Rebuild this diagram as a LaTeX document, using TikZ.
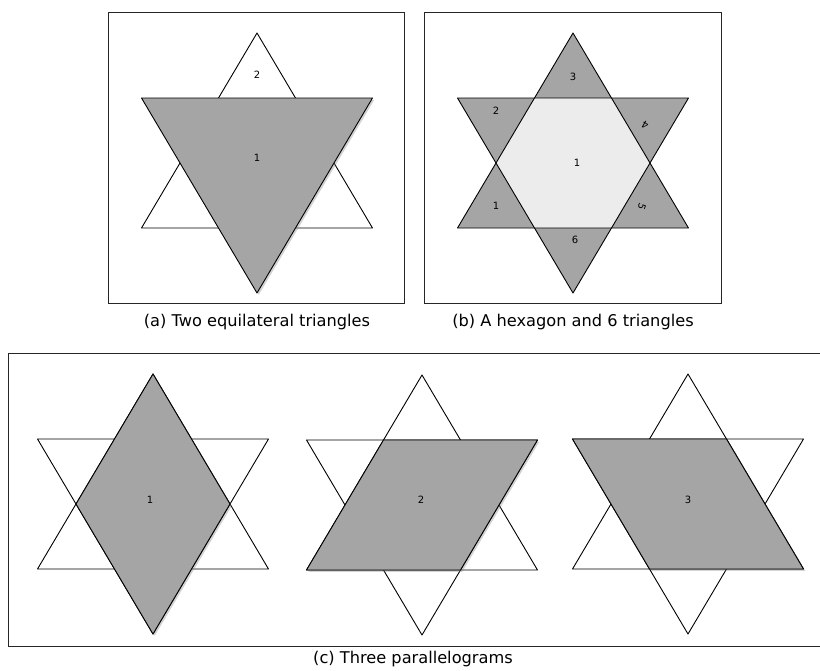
\documentclass[tikz,border=0pt]{standalone}
\usepackage{fontspec}
\setmainfont{DejaVu Sans}
\usepackage{xcolor}
\usepackage{tikz}
\usetikzlibrary{positioning,calc,shadows}

\definecolor{shapegray}{RGB}{165,165,165}
\definecolor{hexgray}{RGB}{236,236,236}

\begin{document}
\begin{tikzpicture}[
    x=1pt,y=-1pt,
    frame/.style={draw=black!85,line width=1pt},
    tri/.style={draw=black,line width=0.9pt,line join=round},
    piece/.style={tri,fill=shapegray,drop shadow={shadow xshift=1.8pt,shadow yshift=-1.8pt,opacity=0.35}},
    num/.style={font=\fontsize{10}{10}\selectfont},
    caption/.style={font=\fontsize{16.2}{16.2}\selectfont}
    ]

    \useasboundingbox (0,0) rectangle (820,670);

    % points of each star
    \foreach \n/\cx/\cy in {a/257/163,b/573/163,c1/153/504,c2/422/505,c3/688/504} {
      \coordinate (\n-ut) at (\cx,\cy-130);
      \coordinate (\n-ul) at (\cx-115.5,\cy+65);
      \coordinate (\n-ur) at (\cx+115.5,\cy+65);
      \coordinate (\n-dl) at (\cx-115.5,\cy-65);
      \coordinate (\n-dr) at (\cx+115.5,\cy-65);
      \coordinate (\n-db) at (\cx,\cy+130);
      \coordinate (\n-h1) at (\cx-38.5,\cy-65);
      \coordinate (\n-h2) at (\cx+38.5,\cy-65);
      \coordinate (\n-h3) at (\cx+77,\cy);
      \coordinate (\n-h4) at (\cx+38.5,\cy+65);
      \coordinate (\n-h5) at (\cx-38.5,\cy+65);
      \coordinate (\n-h6) at (\cx-77,\cy);
    }

    % frames
    \draw[frame] (108,12) rectangle (404,303);
    \draw[frame] (424,12) rectangle (721,303);
    \draw[frame] (830,353) -- (8,353) -- (8,646) -- (830,646);

    % (a)
    \draw[tri,fill=white] (a-ut)--(a-ur)--(a-ul)--cycle;
    \draw[piece] (a-dl)--(a-dr)--(a-db)--cycle;
    \node[num] (a2) at (257,75) {2};
    \node[num] (a1) at (257,158) {1};

    % (b)
    \fill[shapegray] (b-ut)--(b-ur)--(b-ul)--cycle;
    \fill[shapegray] (b-dl)--(b-dr)--(b-db)--cycle;
    \fill[hexgray] (b-h1)--(b-h2)--(b-h3)--(b-h4)--(b-h5)--(b-h6)--cycle;
    \draw[tri] (b-ut)--(b-ur)--(b-ul)--cycle;
    \draw[tri] (b-dl)--(b-dr)--(b-db)--cycle;
    \node[num] (b3) at (573,77) {3};
    \node[num] (b2) at (496,111) {2};
    \node[num,rotate=150] (b4) at (645,125) {4};
    \node[num] (bc) at (577,163) {1};
    \node[num] (b1) at (496,206) {1};
    \node[num,rotate=-110] (b5) at (642,207) {5};
    \node[num] (b6) at (575,240) {6};

    % (c)
    \foreach \n in {c1,c2,c3} {
      \draw[tri,fill=white] (\n-ut)--(\n-ur)--(\n-ul)--cycle;
      \draw[tri] (\n-dl)--(\n-dr)--(\n-db)--cycle;
    }
    \draw[piece] (c1-ut)--(c1-h3)--(c1-db)--(c1-h6)--cycle;
    \draw[piece] (c2-ul)--(c2-h1)--(c2-dr)--(c2-h4)--cycle;
    \draw[piece] (c3-dl)--(c3-h2)--(c3-ur)--(c3-h5)--cycle;
    \node[num] (c1n) at (150,500) {1};
    \node[num] (c2n) at (421,500) {2};
    \node[num] (c3n) at (688,500) {3};

    % captions
    \node[caption] (capa) at (257,322) {(a) Two equilateral triangles};
    \node[caption] (capb) at (573,322) {(b) A hexagon and 6 triangles};
    \node[caption] (capc) at (413,659) {(c) Three parallelograms};

  \end{tikzpicture}
\end{document}
